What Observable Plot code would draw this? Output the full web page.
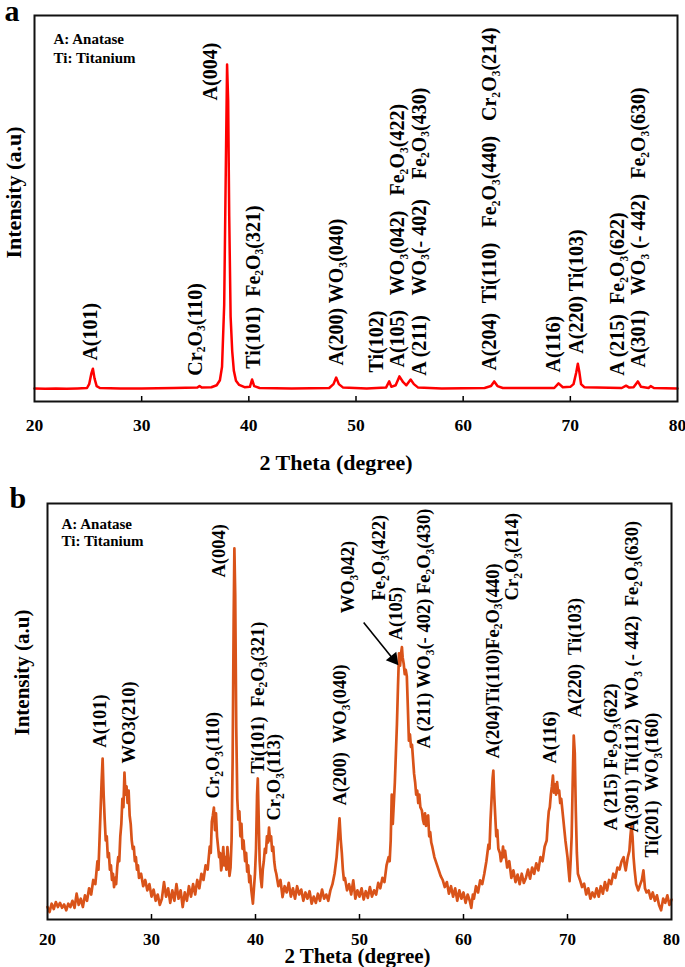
<!DOCTYPE html>
<html><head><meta charset="utf-8">
<script src="https://cdn.jsdelivr.net/npm/d3@7"></script>
<script src="https://cdn.jsdelivr.net/npm/@observablehq/plot@0.6"></script>
<style>
body{margin:0;background:#fff;}
#chart{width:685px;height:967px;font-family:"Liberation Serif","Times New Roman",serif;}
#chart svg{display:block;}
#chart svg text{white-space:pre;}
</style></head><body><div id="chart"></div>
<script>
// ---------- data ----------
const xTicks = [20, 30, 40, 50, 60, 70, 80];
const innerTicks = [30, 40, 50, 60, 70];

// panel a: XRD pattern [2θ, intensity (a.u.)]
const patternA = [[20.0,34],[21.0,33],[22.0,34],[23.0,33],[24.0,34],[24.9,35],[25.1,45],[25.3,72],[25.45,85],[25.6,60],[25.8,40],[26.1,35],[28.0,34],[30.0,34],[33.0,35],[35.2,36],[35.4,40],[35.6,36],[36.5,37],[37.0,42],[37.3,55],[37.5,90],[37.7,250],[37.85,600],[37.97,873],[38.07,780],[38.17,480],[38.3,220],[38.45,130],[38.6,80],[38.8,54],[39.1,43],[39.6,37],[40.1,38],[40.3,57],[40.5,40],[41.0,35],[44.0,34],[47.5,35],[47.9,45],[48.15,62],[48.4,45],[48.8,36],[51.0,34],[52.8,36],[53.1,52],[53.3,38],[53.7,42],[54.05,65],[54.4,50],[54.7,42],[55.1,57],[55.4,45],[55.8,36],[58.0,34],[62.0,35],[62.6,40],[62.9,52],[63.2,40],[63.7,35],[68.5,35],[68.9,47],[69.3,37],[70.0,38],[70.3,45],[70.55,75],[70.7,98],[70.85,75],[71.0,45],[71.3,37],[74.8,35],[75.2,41],[75.5,36],[75.9,37],[76.3,52],[76.6,38],[77.3,35],[77.5,40],[77.8,35],[80.0,34]];

// panel b: XRD pattern [2θ, intensity (a.u.)]
const patternB = [[20.0,30],[20.2,18],[20.4,38],[20.6,25],[20.8,42],[21.0,30],[21.2,40],[21.4,28],[21.6,36],[21.8,22],[22.0,38],[22.2,30],[22.4,45],[22.6,28],[22.8,62],[23.0,35],[23.2,50],[23.4,30],[23.6,58],[23.8,45],[24.0,75],[24.2,60],[24.4,95],[24.6,85],[24.8,140],[24.9,120],[25.0,190],[25.1,260],[25.2,330],[25.3,387],[25.4,300],[25.5,240],[25.6,190],[25.7,200],[25.8,150],[25.9,160],[26.0,120],[26.1,130],[26.2,95],[26.3,110],[26.4,78],[26.5,100],[26.6,85],[26.7,125],[26.8,150],[26.9,140],[27.0,200],[27.1,230],[27.2,290],[27.3,270],[27.4,353],[27.5,300],[27.6,320],[27.7,280],[27.8,310],[27.9,250],[28.0,230],[28.1,190],[28.2,170],[28.3,175],[28.4,140],[28.5,150],[28.6,120],[28.7,130],[28.8,100],[29.0,110],[29.2,80],[29.4,95],[29.6,70],[29.8,85],[30.0,55],[30.2,72],[30.4,45],[30.6,60],[30.8,35],[31.0,50],[31.2,90],[31.4,55],[31.6,75],[31.8,40],[32.0,70],[32.2,45],[32.4,85],[32.6,50],[32.8,70],[33.0,30],[33.2,65],[33.4,45],[33.6,80],[33.8,55],[34.0,85],[34.2,60],[34.4,95],[34.6,75],[34.8,110],[35.0,95],[35.2,130],[35.4,120],[35.6,175],[35.7,160],[35.8,235],[35.9,250],[36.0,269],[36.1,215],[36.2,255],[36.3,200],[36.4,175],[36.5,150],[36.6,160],[36.7,118],[36.8,135],[36.9,174],[37.0,130],[37.1,150],[37.2,120],[37.3,174],[37.4,140],[37.5,105],[37.6,125],[37.7,190],[37.8,380],[37.9,720],[37.97,892],[38.05,780],[38.15,460],[38.25,290],[38.35,240],[38.45,260],[38.55,200],[38.65,230],[38.75,170],[38.85,190],[39.0,140],[39.1,160],[39.2,115],[39.3,130],[39.4,90],[39.5,105],[39.6,70],[39.75,38],[39.85,75],[39.95,110],[40.05,170],[40.15,300],[40.22,339],[40.3,250],[40.4,140],[40.5,100],[40.6,78],[40.7,120],[40.8,140],[40.9,170],[41.0,160],[41.1,200],[41.2,185],[41.3,221],[41.4,190],[41.5,200],[41.6,165],[41.7,175],[41.8,140],[41.9,120],[42.0,110],[42.2,80],[42.4,95],[42.6,54],[42.8,80],[43.0,65],[43.2,88],[43.4,55],[43.6,75],[43.8,50],[44.0,80],[44.2,60],[44.4,72],[44.6,45],[44.8,65],[45.0,50],[45.2,68],[45.4,38],[45.6,55],[45.8,40],[46.0,62],[46.2,45],[46.4,72],[46.6,50],[46.8,60],[47.0,45],[47.2,70],[47.4,85],[47.6,110],[47.8,150],[47.95,200],[48.08,243],[48.2,190],[48.3,160],[48.4,120],[48.5,95],[48.6,100],[48.8,70],[49.0,85],[49.2,60],[49.4,94],[49.6,50],[49.8,70],[50.0,55],[50.2,75],[50.4,48],[50.6,68],[50.8,52],[51.0,78],[51.2,55],[51.4,70],[51.6,60],[51.8,88],[52.0,75],[52.2,100],[52.4,90],[52.6,130],[52.8,150],[52.9,140],[53.0,190],[53.1,300],[53.2,230],[53.3,280],[53.4,330],[53.5,400],[53.6,470],[53.7,560],[53.8,640],[53.9,610],[54.0,640],[54.08,655],[54.15,630],[54.25,615],[54.35,590],[54.45,600],[54.55,585],[54.65,510],[54.75,430],[54.85,445],[54.95,415],[55.05,420],[55.15,385],[55.25,350],[55.35,330],[55.45,300],[55.55,310],[55.65,280],[55.75,300],[55.85,270],[56.0,262],[56.1,240],[56.2,230],[56.3,255],[56.4,225],[56.5,246],[56.6,250],[56.7,200],[56.8,210],[56.9,185],[57.0,175],[57.2,150],[57.4,135],[57.6,120],[57.8,105],[58.0,95],[58.2,78],[58.4,90],[58.6,62],[58.8,80],[59.0,55],[59.2,75],[59.4,45],[59.6,70],[59.8,50],[60.0,65],[60.2,40],[60.4,60],[60.6,45],[60.75,28],[60.9,60],[61.0,50],[61.2,80],[61.4,65],[61.6,94],[61.8,85],[62.0,110],[62.2,140],[62.4,180],[62.5,170],[62.6,240],[62.7,290],[62.8,340],[62.87,358],[62.95,300],[63.05,250],[63.15,200],[63.25,215],[63.35,170],[63.5,160],[63.6,140],[63.7,150],[63.8,175],[63.9,150],[64.0,165],[64.2,125],[64.4,140],[64.6,100],[64.8,118],[65.0,90],[65.2,108],[65.4,85],[65.6,110],[65.8,88],[66.0,100],[66.2,120],[66.4,98],[66.6,125],[66.8,110],[67.0,135],[67.2,118],[67.4,150],[67.6,140],[67.8,175],[68.0,190],[68.1,230],[68.2,260],[68.3,270],[68.4,300],[68.5,320],[68.6,346],[68.7,305],[68.8,325],[68.9,300],[69.0,330],[69.1,305],[69.2,310],[69.3,280],[69.4,290],[69.5,265],[69.6,240],[69.7,215],[69.8,190],[69.9,170],[70.0,150],[70.1,120],[70.2,92],[70.3,140],[70.4,200],[70.5,330],[70.6,442],[70.7,400],[70.8,260],[70.9,160],[71.0,110],[71.2,95],[71.4,78],[71.6,86],[71.8,60],[72.0,75],[72.2,50],[72.4,65],[72.6,54],[72.8,75],[73.0,55],[73.2,80],[73.4,62],[73.6,90],[73.8,70],[74.0,95],[74.2,85],[74.4,110],[74.6,100],[74.8,125],[75.0,120],[75.2,140],[75.4,150],[75.5,130],[75.6,118],[75.8,150],[75.95,165],[76.05,200],[76.15,226],[76.25,200],[76.35,150],[76.45,120],[76.6,85],[76.8,70],[77.0,85],[77.15,95],[77.3,118],[77.45,75],[77.6,65],[77.8,70],[78.0,50],[78.2,65],[78.4,45],[78.6,58],[78.8,35],[79.0,22],[79.2,50],[79.4,40],[79.6,58],[79.8,35],[80.0,48]];

// peak labels: text, 2θ position, intensity where the text starts
const labelTextA = ["A(101)","Cr₂O₃(110)","A(004)","Ti(101)  Fe₂O₃(321)","A(200) WO₃(040)","Ti(102)","A(105)   WO₃(042)   Fe₂O₃(422)","A (211)    WO₃(- 402)    Fe₂O₃(430)","A(204)  Ti(110)   Fe₂O₃(440)   Cr₂O₃(214)","A(116)","A(220) Ti(103)","A (215)  Fe₂O₃(622)","A(301)   WO₃ (- 442)   Fe₂O₃(630)"];
const labelThetaA = [25.2,35.0,36.4,40.4,48.2,51.9,53.9,55.9,62.5,68.4,70.6,74.4,76.4];
const labelYA = [106,67,780,85,93,75,88,67,80,75,124,67,88];

const labelTextB = ["A(101)","WO3(210)","Cr₂O₃(110)","A(004)","Ti(101)  Fe₂O₃(321)","Cr₂O₃(113)","A(200)  WO₃(040)","WO₃042)","Fe₂O₃(422)","A(105)","A (211) WO₃(- 402) Fe₂O₃(430)","A(204)Ti(110)Fe₂O₃(440)","Cr₂O₃(214)","A(116)","A(220)  Ti(103)","A (215) Fe₂O₃(622)","A(301) Ti(112)  WO₃ (- 442)  Fe₂O₃(630)","Ti(201)  WO₃(160)"];
const labelThetaB = [25.1,27.8,35.9,36.5,40.2,41.8,48.1,48.9,51.9,53.5,56.2,62.8,64.7,68.3,70.7,74.2,76.25,78.1];
const labelYB = [413,375,291,822,351,238,274,736,767,671,411,387,767,375,486,214,209,149];

// arrow in panel b: from the WO₃042) label to the A(105) peak
const arrowB = [{x1: 50.4, y1: 714, x2: 53.5, y2: 618}];
const arrowHeadB = [{x: 53.27, y: 626}];

const legendLines = ["A: Anatase", "Ti: Titanium"];

// ---------- helpers ----------
const toPoints = arr => arr.map(([t, v]) => ({t, v}));
const toLabels = (texts, thetas, ys) => texts.map((s, i) => ({s, t: thetas[i], v: ys[i]}));

function subscriptify(svg) {
  const NS = "http://www.w3.org/2000/svg";
  svg.querySelectorAll("text").forEach(t => {
    if (t.querySelector("tspan")) return;
    const s = t.textContent;
    if (!/[₀-₉]/.test(s)) return;
    const fs = parseFloat(getComputedStyle(t).fontSize) || 16;
    const shift = fs * 0.24;
    t.textContent = "";
    let shifted = false;
    for (const p of s.match(/[₀-₉]+|[^₀-₉]+/g)) {
      const ts = document.createElementNS(NS, "tspan");
      if (/[₀-₉]/.test(p)) {
        ts.textContent = p.replace(/[₀-₉]/g, c => String.fromCharCode(c.charCodeAt(0) - 0x2080 + 48));
        ts.setAttribute("font-size", (fs * 0.72).toFixed(2));
        ts.setAttribute("dy", shift.toFixed(2));
        shifted = true;
      } else {
        ts.textContent = p;
        if (shifted) { ts.setAttribute("dy", (-shift).toFixed(2)); shifted = false; }
      }
      t.appendChild(ts);
    }
  });
}

function panel(o) {
  const innerH = o.height - o.marginTop - o.marginBottom;
  const arrowMarks = o.arrow ? [
    Plot.link(o.arrow, {x1: "x1", y1: "y1", x2: "x2", y2: "y2", stroke: "black", strokeWidth: 1.6}),
    Plot.dot(o.arrowHead, {x: "x", y: "y", symbol: "triangle", r: 5, rotate: 141, fill: "black", stroke: "none"})
  ] : [];
  const svg = Plot.plot({
    width: 685, height: o.height,
    marginTop: o.marginTop, marginBottom: o.marginBottom, marginLeft: o.marginLeft, marginRight: o.marginRight,
    style: {fontFamily: '"Liberation Serif","Times New Roman",serif', color: "black", background: "white", overflow: "visible"},
    x: {domain: [20, 80]},
    y: {domain: [0, 1000], axis: null},
    marks: [
      Plot.line(toPoints(o.pattern), {x: "t", y: "v", stroke: o.color, strokeWidth: o.lineWidth, strokeLinejoin: "round"}),
      Plot.tickX(innerTicks, {x: d => d, stroke: "black", strokeWidth: 1.5, insetTop: innerH - 5}),
      Plot.frame({stroke: "#111", strokeWidth: 2}),
      Plot.axisX({ticks: xTicks, tickSize: 0, tickPadding: o.tickPad, fontSize: o.tickSize, fontWeight: "bold", label: null}),
      Plot.text(toLabels(o.labels, o.thetas, o.ys), {x: "t", y: "v", text: "s", rotate: -90, textAnchor: "start", lineAnchor: "middle", fontSize: o.labelSize, fontWeight: "bold", fill: "black"}),
      ...arrowMarks,
      Plot.text([legendLines[0]], {frameAnchor: "top-left", text: d => d, dx: o.legendDx, dy: o.legendDy1, textAnchor: "start", lineAnchor: "bottom", fontSize: 15, fontWeight: "bold"}),
      Plot.text([legendLines[1]], {frameAnchor: "top-left", text: d => d, dx: o.legendDx, dy: o.legendDy2, textAnchor: "start", lineAnchor: "bottom", fontSize: 15, fontWeight: "bold"}),
      Plot.text([o.letter], {frameAnchor: "top-left", text: d => d, dx: o.letterDx, dy: o.letterDy, textAnchor: "start", lineAnchor: "bottom", fontSize: 30, fontWeight: "bold"}),
      Plot.text(["Intensity (a.u)"], {frameAnchor: "left", text: d => d, dx: o.ytDx, dy: o.ytDy, rotate: -90, textAnchor: "middle", lineAnchor: "middle", fontSize: o.titleSize, fontWeight: "bold"}),
      Plot.text(["2 Theta (degree)"], {frameAnchor: "bottom", text: d => d, dx: o.xtDx, dy: o.xtDy, textAnchor: "middle", lineAnchor: "bottom", fontSize: o.titleSize, fontWeight: "bold"})
    ]
  });
  subscriptify(svg);
  return svg;
}

const chart = document.getElementById("chart");
chart.appendChild(panel({
  height: 480, marginTop: 15, marginBottom: 79, marginLeft: 34, marginRight: 8,
  pattern: patternA, color: "#ff0000", lineWidth: 2.5, tickPad: 17, tickSize: 17.5,
  labels: labelTextA, thetas: labelThetaA, ys: labelYA, labelSize: 20,
  legendDx: 19, legendDy1: 28, legendDy2: 47,
  letter: "a", letterDx: -30, letterDy: 5,
  titleSize: 22, ytDx: -21, ytDy: -16, xtDx: -20, xtDy: 68
}));
chart.appendChild(panel({
  height: 487, marginTop: 23, marginBottom: 48, marginLeft: 47, marginRight: 14,
  pattern: patternB, color: "#d95319", lineWidth: 2.7, tickPad: 13, tickSize: 17,
  labels: labelTextB, thetas: labelThetaB, ys: labelYB, labelSize: 18.5, arrow: arrowB, arrowHead: arrowHeadB,
  legendDx: 14, legendDy1: 25, legendDy2: 42,
  letter: "b", letterDx: -38, letterDy: 4,
  titleSize: 21, ytDx: -25, ytDy: -39, xtDx: -2, xtDy: 43
}));
</script></body></html>
